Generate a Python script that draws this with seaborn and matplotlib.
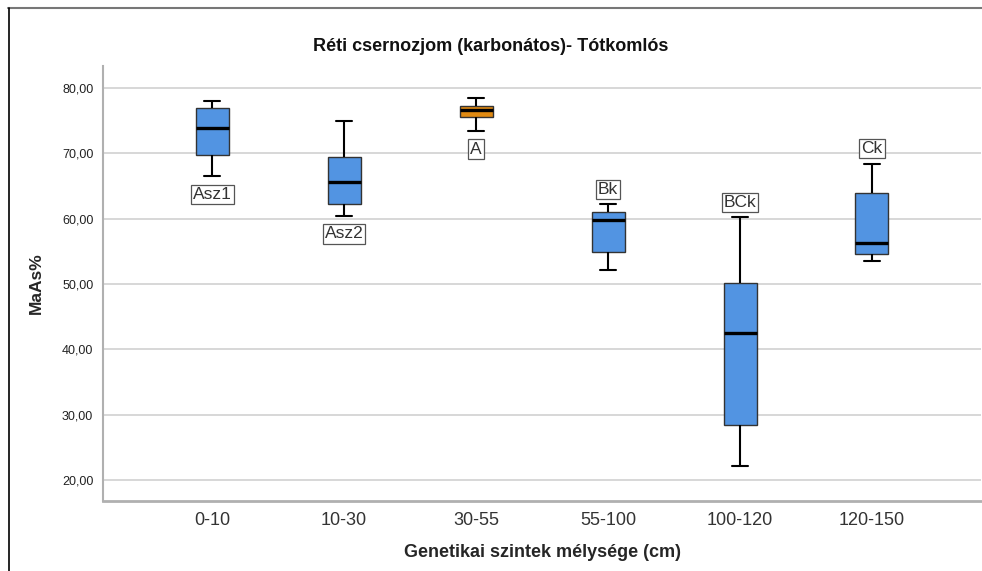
import matplotlib
matplotlib.use("Agg")
import matplotlib.pyplot as plt
from matplotlib.lines import Line2D
from matplotlib.ticker import FuncFormatter
import numpy as np
import pandas as pd
import seaborn as sns

# Genetic horizon depth classes and horizon names
depths = ["0-10", "10-30", "30-55", "55-100", "100-120", "120-150"]
horizons = ["Asz1", "Asz2", "A", "Bk", "BCk", "Ck"]

# Five-number summaries of MaAs% per horizon
mins = [66.5, 60.4, 73.4, 52.1, 22.2, 53.5]
q1s = [69.7, 62.3, 75.5, 54.9, 28.4, 54.6]
medians = [73.9, 65.6, 76.7, 59.8, 42.5, 56.3]
q3s = [76.9, 69.4, 77.2, 61.1, 50.1, 63.9]
maxs = [78.0, 75.0, 78.5, 62.2, 60.2, 68.4]

# Horizon name placed below (True) or above (False) the whiskers
label_below = [True, True, True, False, False, False]

box_colors = ["#5294e2", "#5294e2", "#e08a12", "#5294e2", "#5294e2", "#5294e2"]

rows = []
for d, lo, a, m, b, hi in zip(depths, mins, q1s, medians, q3s, maxs):
    for v in (lo, a, m, b, hi):
        rows.append({"depth": d, "MaAs": v})
df = pd.DataFrame(rows)

sns.set_theme(style="white")
plt.rcParams["font.family"] = ["Liberation Sans", "DejaVu Sans"]

fig = plt.figure(figsize=(9.82, 5.71), dpi=100)
ax = fig.add_axes([0.1049, 0.1226, 0.8941, 0.7618])

ax.yaxis.grid(True, color="#d4d4d4", linewidth=1.3, zorder=0)
ax.set_axisbelow(True)

sns.boxplot(
    data=df, x="depth", y="MaAs", hue="depth", order=depths, hue_order=depths,
    palette=dict(zip(depths, box_colors)), legend=False, width=0.25, saturation=1,
    whis=(0, 100), linecolor="#222222", linewidth=1.0, ax=ax,
    medianprops={"color": "black", "linewidth": 2.4},
    whiskerprops={"color": "black", "linewidth": 1.5},
    capprops={"color": "black", "linewidth": 1.5},
    boxprops={"edgecolor": "#333333", "linewidth": 1.0},
)

label_style = dict(ha="center", fontsize=12.5, color="#333333",
                   bbox=dict(boxstyle="square,pad=0.12", fc="white", ec="#555555", lw=0.9))
for i, (name, below) in enumerate(zip(horizons, label_below)):
    if below:
        ax.annotate(name, (i, mins[i]), xytext=(0, -7.5), textcoords="offset points",
                    va="top", **label_style)
    else:
        ax.annotate(name, (i, maxs[i]), xytext=(0, 5.5), textcoords="offset points",
                    va="bottom", **label_style)

ax.set_xlim(-0.826, 5.826)
ax.set_ylim(16.79, 83.37)
ax.set_yticks([20, 30, 40, 50, 60, 70, 80])
ax.yaxis.set_major_formatter(FuncFormatter(lambda v, p: f"{v:.2f}".replace(".", ",")))
ax.tick_params(axis="y", labelsize=9, labelcolor="#222222", length=0, pad=7)
ax.tick_params(axis="x", labelsize=13, labelcolor="#333333", length=0, pad=8)

for side in ("top", "right"):
    ax.spines[side].set_visible(False)
ax.spines["left"].set_color("#b0b0b0")
ax.spines["left"].set_linewidth(1.5)
ax.spines["bottom"].set_color("#b0b0b0")
ax.spines["bottom"].set_linewidth(2.0)

ax.set_xlabel("Genetikai szintek mélysége (cm)", fontsize=13, fontweight="bold", labelpad=11)
ax.set_ylabel("MaAs%", fontsize=12.5, fontweight="bold", labelpad=13)
fig.text(0.5, 0.918, "Réti csernozjom (karbonátos)- Tótkomlós", ha="center", va="center",
         fontsize=13, fontweight="bold", color="#111111")

# Frame lines at the top and left of the figure
fig.add_artist(Line2D([8 / 982, 1.0], [1 - 7.5 / 571, 1 - 7.5 / 571], color="#777777", linewidth=1.5))
fig.add_artist(Line2D([8.5 / 982, 8.5 / 982], [0, 1 - 7.5 / 571], color="black", linewidth=1.2))

fig.savefig("out.png", dpi=100)
